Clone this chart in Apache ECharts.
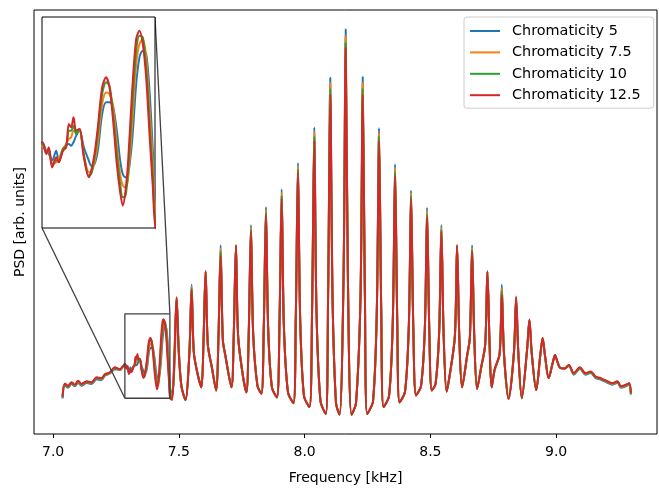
<!DOCTYPE html>
<html><head><meta charset="utf-8">
<script src="https://cdn.jsdelivr.net/npm/echarts@6/dist/echarts.min.js"></script>
<style>html,body{margin:0;padding:0;background:#fff}#c{width:659px;height:490px}</style>
</head><body><div id="c"></div>
<script>
// Frequency grid [kHz]
const freq = [7.0374,7.0465,7.0597,7.0732,7.0863,7.0995,7.1130,7.1329,7.1528,7.1727,7.1926,7.2057,7.2256,7.2455,7.2654,
7.2856,7.2919,7.2961,7.3014,7.3077,7.3120,7.3183,7.3236,7.3278,7.3315,7.3352,7.3394,7.3447,7.3516,7.3595,7.3632,7.3685,7.3737,7.3806,7.3869,7.3922,7.3975,7.4038,7.4091,7.4133,7.4176,7.4218,7.4281,7.4345,7.4397,7.4450,7.4503,7.4556,7.4609,7.4651,
7.4730,7.4822,7.4909,7.4997,7.5100,7.5260,7.5419,7.5506,7.5594,7.5757,
7.5896,7.5976,7.6063,7.6151,7.6314,7.6481,7.6572,7.6660,7.6748,7.6851,
7.7090,7.7181,7.7269,7.7356,7.7559,7.7686,7.7778,7.7866,7.7953,7.8124,
7.8283,7.8375,7.8462,7.8550,7.8701,7.8900,7.8999,7.9087,7.9174,7.9338,
7.9556,7.9648,7.9735,7.9823,7.9974,8.0193,8.0296,8.0384,8.0471,8.0631,
8.0841,8.0933,8.1020,8.1108,8.1247,8.1386,8.1546,8.1633,8.1721,8.1864,
8.2043,8.2222,8.2310,8.2397,8.2489,8.2719,8.2870,8.2958,8.3046,8.3137,
8.3356,8.3507,8.3595,8.3682,8.3774,8.3992,8.4144,8.4231,8.4319,8.4430,
8.4629,8.4780,8.4868,8.4955,8.5055,8.5206,8.5349,8.5437,8.5524,8.5644,
8.5763,8.5974,8.6061,8.6149,8.6260,8.6459,8.6570,8.6658,8.6746,8.6857,
8.7016,8.7179,8.7267,8.7354,8.7434,8.7553,8.7752,8.7840,8.7927,8.8110,
8.8321,8.8409,8.8496,8.8635,8.8846,8.8938,8.9029,8.9208,8.9371,8.9463,
8.9554,8.9702,8.9865,8.9956,9.0048,9.0171,9.0338,9.0505,9.0704,9.0943,
9.1170,9.1372,9.1571,9.1770,9.2037,9.2240,9.2439,9.2574,9.2773,9.2904,9.2972];

// PSD values [arb. units]
const chroma5 = [4.2,7.6,7.0,8.0,7.4,8.2,7.5,8.2,8.0,9.2,9.0,10.1,10.7,11.8,11.6,
13.17,12.30,11.96,11.27,12.30,11.27,12.30,12.82,12.99,12.82,13.17,13.86,14.38,12.65,11.27,10.75,10.92,12.30,16.11,17.32,17.32,16.97,14.38,11.27,9.88,9.54,9.88,13.34,19.22,21.98,22.68,22.33,18.53,12.30,7.12,
5.0,12.5,30.0,17.0,7.5,3.8,16.2,33.7,16.2,10.0,
7.1,18.2,37.2,18.2,12.0,6.3,19.4,44.0,19.4,15.0,
7.1,20.4,43.8,20.4,9.3,5.8,21.2,49.2,21.2,7.5,
5.5,22.4,53.9,22.4,7.0,4.5,23.2,58.5,23.2,5.8,
3.0,24.8,65.3,24.8,4.8,2.0,27.0,74.5,27.0,3.5,
0.2,30.8,87.4,30.8,3.0,0.0,35.2,100.0,35.2,0.0,
3.0,30.8,87.6,30.8,0.2,3.5,27.0,74.3,27.0,2.0,
4.8,24.6,65.0,24.6,3.2,6.0,23.3,58.2,23.3,5.0,
7.5,22.5,53.7,22.5,6.3,8.0,21.4,49.2,21.4,6.0,
9.8,20.4,43.8,20.4,7.1,15.0,20.0,44.0,20.0,6.7,
12.0,18.2,37.0,18.2,7.1,11.4,15.8,33.7,15.8,4.1,
16.1,29.5,16.1,4.3,17.0,24.4,16.0,6.4,15.5,19.6,
15.5,9.5,13.5,15.3,13.8,12.1,12.0,12.7,10.4,11.9,
10.4,10.8,9.5,9.1,8.3,7.8,8.3,7.0,7.4,7.8,5.2];

const chroma75 = [4.5,7.9,7.3,8.2,7.6,8.5,7.8,8.5,8.2,9.5,9.3,10.3,10.8,12.1,11.7,
12.82,12.30,12.30,10.92,11.09,11.44,12.48,12.99,13.51,13.69,14.38,14.20,14.38,11.96,10.06,10.06,11.09,13.17,17.14,18.35,18.18,17.14,12.99,9.88,8.67,8.50,9.54,15.07,21.29,23.37,23.89,21.98,16.80,10.92,6.08,
4.5,13.8,30.2,16.6,7.5,3.8,16.2,33.2,16.2,10.2,
7.1,18.2,37.2,18.2,12.2,6.3,19.4,43.2,19.4,15.2,
7.1,20.4,43.9,20.4,9.5,5.8,21.2,48.6,21.2,7.5,
5.5,22.4,53.2,22.4,7.0,4.5,23.2,57.7,23.2,5.8,
3.0,24.8,64.5,24.8,4.8,2.0,27.0,73.4,27.0,3.5,
0.2,30.8,86.0,30.8,3.0,0.0,35.2,98.3,35.2,0.0,
3.0,30.8,86.2,30.8,0.2,3.5,27.0,73.2,27.0,2.0,
4.8,24.6,64.0,24.6,3.2,6.0,23.3,57.5,23.3,5.0,
7.5,22.5,52.9,22.5,6.3,8.0,21.4,48.6,21.4,6.0,
10.0,20.4,43.9,20.4,7.1,15.2,20.0,43.4,20.0,6.7,
12.1,18.2,37.1,18.2,7.1,11.6,15.8,32.8,15.8,4.1,
16.1,29.9,16.1,4.3,17.0,24.5,16.0,6.4,15.5,19.8,
15.5,9.5,13.5,15.4,13.8,12.1,12.0,12.8,10.6,12.1,
10.6,11.0,9.7,9.3,8.5,8.0,8.5,7.2,7.6,8.0,5.4];

const chroma10 = [4.6,8.0,7.4,8.3,7.7,8.7,7.9,8.6,8.3,9.6,9.4,10.4,10.9,12.2,11.8,
12.99,12.13,12.48,10.75,11.27,11.27,12.48,12.82,14.38,14.38,14.90,14.03,14.55,11.78,9.71,9.88,11.61,14.03,18.18,19.39,19.05,16.45,11.96,8.84,7.46,7.63,10.23,16.80,22.68,24.23,24.06,20.95,15.41,9.54,5.04,
4.1,14.8,30.4,16.2,7.5,3.8,16.2,32.8,16.2,10.3,
7.1,18.2,37.2,18.2,12.3,6.3,19.4,42.3,19.4,15.3,
7.1,20.4,44.0,20.4,9.6,5.8,21.2,48.0,21.2,7.5,
5.5,22.4,52.5,22.4,7.0,4.5,23.2,56.9,23.2,5.8,
3.0,24.8,63.7,24.8,4.8,2.0,27.0,72.2,27.0,3.5,
0.2,30.8,84.5,30.8,3.0,0.0,35.2,96.5,35.2,0.0,
3.0,30.8,84.6,30.8,0.2,3.5,27.0,72.2,27.0,2.0,
4.8,24.6,63.0,24.6,3.2,6.0,23.3,56.8,23.3,5.0,
7.5,22.5,52.1,22.5,6.3,8.0,21.4,48.0,21.4,6.0,
10.1,20.4,44.0,20.4,7.1,15.3,20.0,42.8,20.0,6.7,
12.2,18.2,37.2,18.2,7.1,11.7,15.8,32.0,15.8,4.1,
16.1,30.3,16.1,4.3,17.0,24.6,16.0,6.4,15.5,19.9,
15.5,9.5,13.5,15.5,13.8,12.1,12.0,12.9,10.7,12.2,
10.7,11.1,9.8,9.4,8.6,8.1,8.6,7.3,7.7,8.1,5.5];

const chroma125 = [4.7,8.1,7.5,8.4,7.8,8.8,8.0,8.7,8.4,9.7,9.5,10.5,11.0,12.3,11.8,
13.17,11.96,12.65,10.57,11.61,11.09,12.30,12.65,15.07,14.72,15.76,14.38,14.55,11.61,9.54,10.23,11.96,14.72,18.87,19.91,18.87,15.76,10.92,7.98,6.60,8.15,11.27,18.53,23.89,24.75,23.37,19.91,14.03,8.50,4.35,
3.8,15.8,30.5,15.8,7.5,3.8,16.2,32.3,16.2,10.3,
7.1,18.2,37.2,18.2,12.3,6.3,19.4,41.3,19.4,15.4,
7.1,20.4,44.0,20.4,9.7,5.8,21.2,47.5,21.2,7.5,
5.5,22.4,51.8,22.4,7.0,4.5,23.2,56.1,23.2,5.8,
3.0,24.8,62.9,24.8,4.8,2.0,27.0,71.1,27.0,3.5,
0.2,30.8,83.1,30.8,3.0,0.0,35.2,95.2,35.2,0.0,
3.0,30.8,83.1,30.8,0.2,3.5,27.0,71.1,27.0,2.0,
4.8,24.6,62.1,24.6,3.2,6.0,23.3,56.1,23.3,5.0,
7.5,22.5,51.3,22.5,6.3,8.0,21.4,47.5,21.4,6.0,
10.2,20.4,44.0,20.4,7.1,15.4,20.0,42.3,20.0,6.7,
12.3,18.2,37.2,18.2,7.1,11.8,15.8,31.1,15.8,4.1,
16.1,30.7,16.1,4.3,17.0,24.7,16.0,6.4,15.5,20.0,
15.5,9.5,13.5,15.5,13.8,12.1,12.0,12.9,10.8,12.3,
10.8,11.2,9.9,9.5,8.7,8.2,8.7,7.4,7.8,8.2,5.6];

const seriesNames = ['Chromaticity 5','Chromaticity 7.5','Chromaticity 10','Chromaticity 12.5'];
const xTicks = [7.0, 7.5, 8.0, 8.5, 9.0];
const insetX = [7.2853, 7.4643];   // zoomed frequency window
const insetY = [4.28, 26.17];      // zoomed PSD window

const colors = ['#1f77b4','#ff7f0e','#2ca02c','#d62728'];
const FONT = 'DejaVu Sans';
const allValues = [chroma5, chroma75, chroma10, chroma125];
const pairs = v => freq.map((f, i) => [f, v[i]]);

const chart = echarts.init(document.getElementById('c'), null, {renderer: 'canvas'});
const series = [];
allValues.forEach((v, i) => {
  series.push({type: 'line', name: seriesNames[i], xAxisIndex: 0, yAxisIndex: 0, data: pairs(v),
    showSymbol: false, smooth: 0.3, lineStyle: {width: 2, color: colors[i]}, itemStyle: {color: colors[i]}, z: 2});
});
allValues.forEach((v, i) => {
  series.push({type: 'line', name: seriesNames[i], xAxisIndex: 1, yAxisIndex: 1, data: pairs(v),
    showSymbol: false, smooth: 0.3, clip: true, lineStyle: {width: 2, color: colors[i]}, itemStyle: {color: colors[i]}, z: 12});
});
series.push({type: 'line', name: 'zoombox', xAxisIndex: 0, yAxisIndex: 0, silent: true, showSymbol: false, z: 5,
  data: [[insetX[0], insetY[0]], [insetX[1], insetY[0]], [insetX[1], insetY[1]], [insetX[0], insetY[1]], [insetX[0], insetY[0]]],
  lineStyle: {color: '#404040', width: 1.3}, itemStyle: {color: '#404040'}});

chart.setOption({
  animation: false,
  backgroundColor: '#fff',
  grid: [
    {left: 34, top: 10, width: 623, height: 427, show: true, borderColor: '#000', borderWidth: 1, backgroundColor: '#fff'},
    {left: 42, top: 17, width: 113, height: 211, show: true, borderColor: '#000', borderWidth: 1, backgroundColor: '#fff', z: 10}
  ],
  xAxis: [
    {type: 'value', gridIndex: 0, min: 6.924, max: 9.401,
     axisLine: {show: false, onZero: false}, splitLine: {show: false},
     axisTick: {show: true, inside: false, length: 4, lineStyle: {color: '#000', width: 1}, customValues: xTicks},
     axisLabel: {customValues: xTicks, formatter: v => v.toFixed(1), margin: 11, fontSize: 14, fontFamily: FONT, color: '#000'},
     name: 'Frequency [kHz]', nameLocation: 'middle', nameGap: 37,
     nameTextStyle: {fontSize: 14, fontFamily: FONT, color: '#000'}},
    {type: 'value', gridIndex: 1, min: insetX[0], max: insetX[1], show: false, axisLine: {onZero: false}}
  ],
  yAxis: [
    {type: 'value', gridIndex: 0, min: -5, max: 105,
     axisLine: {show: false, onZero: false}, axisTick: {show: false}, axisLabel: {show: false}, splitLine: {show: false},
     name: 'PSD [arb. units]', nameLocation: 'middle', nameGap: 7, nameRotate: 90,
     nameTextStyle: {fontSize: 14, fontFamily: FONT, color: '#000'}},
    {type: 'value', gridIndex: 1, min: insetY[0], max: insetY[1], show: false, axisLine: {onZero: false}}
  ],
  legend: {
    data: seriesNames, orient: 'vertical', left: 464, top: 17, icon: 'rect',
    itemWidth: 30, itemHeight: 2, itemGap: 5.4, padding: [6, 13, 5, 6],
    backgroundColor: 'rgba(255,255,255,0.85)', borderColor: '#cccccc', borderWidth: 1, borderRadius: 3,
    textStyle: {fontSize: 14.4, fontFamily: FONT, color: '#000', lineHeight: 16, padding: [0, 0, 0, 7]},
    z: 20
  },
  series: series
});

const a1 = chart.convertToPixel({xAxisIndex: 1, yAxisIndex: 1}, [insetX[0], insetY[0]]);
const b1 = chart.convertToPixel({xAxisIndex: 0, yAxisIndex: 0}, [insetX[0], insetY[0]]);
const a2 = chart.convertToPixel({xAxisIndex: 1, yAxisIndex: 1}, [insetX[1], insetY[1]]);
const b2 = chart.convertToPixel({xAxisIndex: 0, yAxisIndex: 0}, [insetX[1], insetY[1]]);
chart.setOption({graphic: [
  {type: 'line', silent: true, z: 5, shape: {x1: a1[0], y1: a1[1], x2: b1[0], y2: b1[1]}, style: {stroke: '#404040', lineWidth: 1.3}},
  {type: 'line', silent: true, z: 5, shape: {x1: a2[0], y1: a2[1], x2: b2[0], y2: b2[1]}, style: {stroke: '#404040', lineWidth: 1.3}}
]});
</script>
</body></html>
